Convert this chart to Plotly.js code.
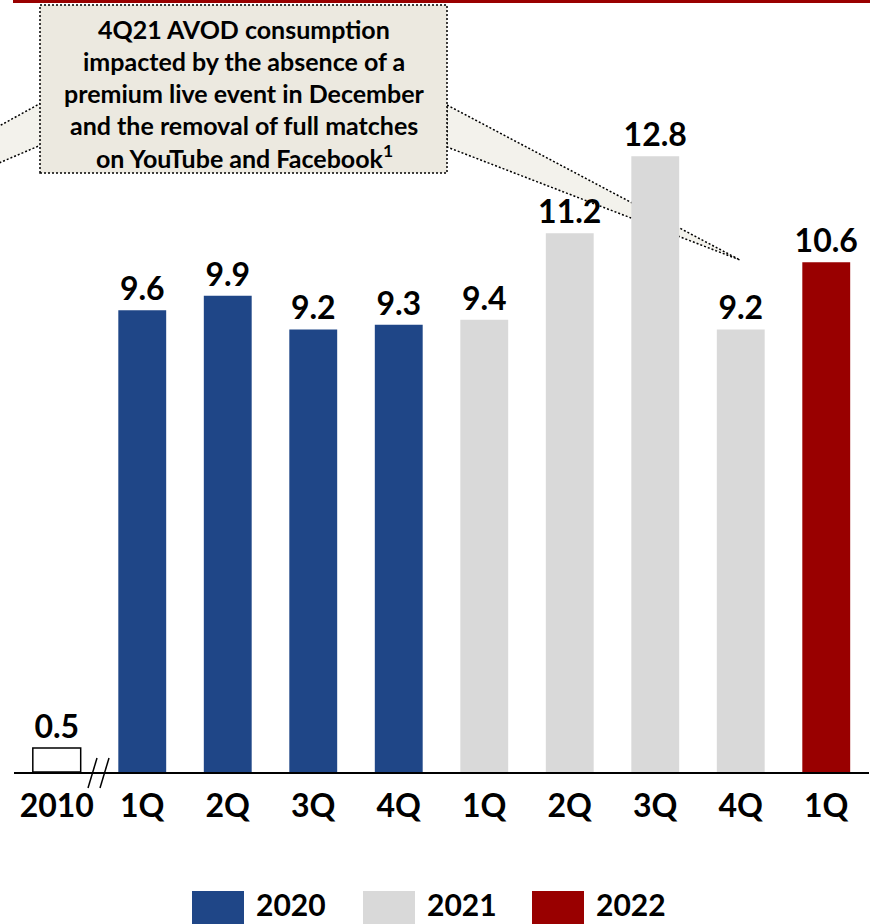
<!DOCTYPE html>
<html>
<head>
<meta charset="utf-8">
<script src="https://cdn.plot.ly/plotly-3.0.1.min.js"></script>
<style>
html,body{margin:0;padding:0;background:#fff;}
#chart{width:881px;height:924px;}
</style>
</head>
<body>
<div id="chart"></div>
<script>
// ---- data ----
const categories = ['2010','1Q','2Q','3Q','4Q','1Q','2Q','3Q','4Q','1Q'];
const periodYear = ['2010','2020','2020','2020','2020','2021','2021','2021','2021','2022'];
const values = [0.5, 9.6, 9.9, 9.2, 9.3, 9.4, 11.2, 12.8, 9.2, 10.6];
const legendYears = ['2020','2021','2022'];
const calloutLines = [
  '4Q21 AVOD consumption',
  'impacted by the absence of a',
  'premium live event in December',
  'and the removal of full matches',
  'on YouTube and Facebook<sup>1</sup>'
];

// ---- styles ----
const yearColor = {'2010':'#FFFFFF','2020':'#1F4687','2021':'#D9D9D9','2022':'#990000'};
const FONT = 'Lato, "Open Sans", "Liberation Sans", sans-serif';
const W = 881, H = 924, ML = 14, MR = 12, MT = 0, MB = 152;
const X = px => (px - ML) / (W - ML - MR);
const Y = py => (H - MB - py) / (H - MT - MB);
const P = pts => 'M ' + pts.map(p => X(p[0]) + ',' + Y(p[1])).join(' L ') + ' Z';
const DOT = '2px,2px';

const idx = categories.map((_, i) => i);

const trace = {
  type: 'bar',
  x: idx,
  y: values,
  width: 0.56,
  marker: {
    color: periodYear.map(y => yearColor[y]),
    line: {
      color: periodYear.map(y => y === '2010' ? '#000000' : yearColor[y]),
      width: periodYear.map(y => y === '2010' ? 1.5 : 0)
    }
  },
  text: values.map(v => v.toFixed(1)),
  textposition: 'outside',
  constraintext: 'none',
  cliponaxis: false,
  textfont: {family: FONT, size: 32, color: '#000', weight: 700},
  hoverinfo: 'skip',
  showlegend: false
};

const shapes = [];
// top red rule
shapes.push({type:'rect', xref:'paper', yref:'paper', x0:X(13), x1:X(870), y0:Y(0), y1:Y(3),
  fillcolor:'#990000', line:{width:0}, layer:'below'});
// callout wedges (behind bars)
shapes.push({type:'path', xref:'paper', yref:'paper', layer:'below',
  path: P([[447,105],[740,260],[447,147]]), fillcolor:'#F3F2EC',
  line:{color:'#000', width:1.5, dash:DOT}});
shapes.push({type:'path', xref:'paper', yref:'paper', layer:'below',
  path: P([[41,103],[-8,130],[-8,166],[41,145]]), fillcolor:'#F3F2EC',
  line:{color:'#000', width:1.5, dash:DOT}});
// callout box
shapes.push({type:'rect', xref:'paper', yref:'paper', layer:'below',
  x0:X(40), x1:X(447), y0:Y(173), y1:Y(5), fillcolor:'#ECE9E0',
  line:{color:'#000', width:1.5, dash:DOT}});
// axis break marks
shapes.push({type:'line', xref:'paper', yref:'paper', x0:X(88), y0:Y(788), x1:X(97), y1:Y(758), line:{color:'#000', width:1.5}});
shapes.push({type:'line', xref:'paper', yref:'paper', x0:X(100), y0:Y(788), x1:X(109), y1:Y(758), line:{color:'#000', width:1.5}});

const annotations = [];
const lineY = [29, 61, 93, 125, 157];
calloutLines.forEach((t, i) => {
  annotations.push({xref:'paper', yref:'paper', x:X(244), y:Y(lineY[i]), text:t, showarrow:false,
    xanchor:'center', yanchor:'middle', font:{family:FONT, size:25, color:'#000', weight:700}});
});

// legend
const legX = [192, 363, 532];
legendYears.forEach((yr, i) => {
  shapes.push({type:'rect', xref:'paper', yref:'paper', x0:X(legX[i]), x1:X(legX[i] + 52),
    y0:Y(926), y1:Y(891), fillcolor:yearColor[yr], line:{width:0}});
  annotations.push({xref:'paper', yref:'paper', x:X(legX[i] + 63), y:Y(904), text:yr, showarrow:false,
    xanchor:'left', yanchor:'middle', borderpad:0, font:{family:FONT, size:30, color:'#000', weight:700}});
});

const layout = {
  width: W, height: H,
  margin: {l: ML, r: MR, t: MT, b: MB, pad: 0},
  paper_bgcolor: '#FFFFFF',
  plot_bgcolor: 'rgba(0,0,0,0)',
  showlegend: false,
  xaxis: {
    range: [-0.5, 9.5], tickmode: 'array', tickvals: idx, ticktext: categories,
    showline: true, linecolor: '#000', linewidth: 2, ticks: '', showgrid: false, zeroline: false,
    tickfont: {family: FONT, size: 32, color: '#000', weight: 700}, ticklabelstandoff: 5, fixedrange: true
  },
  yaxis: {range: [0, 16.05], visible: false, showgrid: false, zeroline: false, fixedrange: true},
  shapes: shapes,
  annotations: annotations
};

Plotly.newPlot('chart', [trace], layout, {displayModeBar: false, staticPlot: true});
</script>
</body>
</html>
